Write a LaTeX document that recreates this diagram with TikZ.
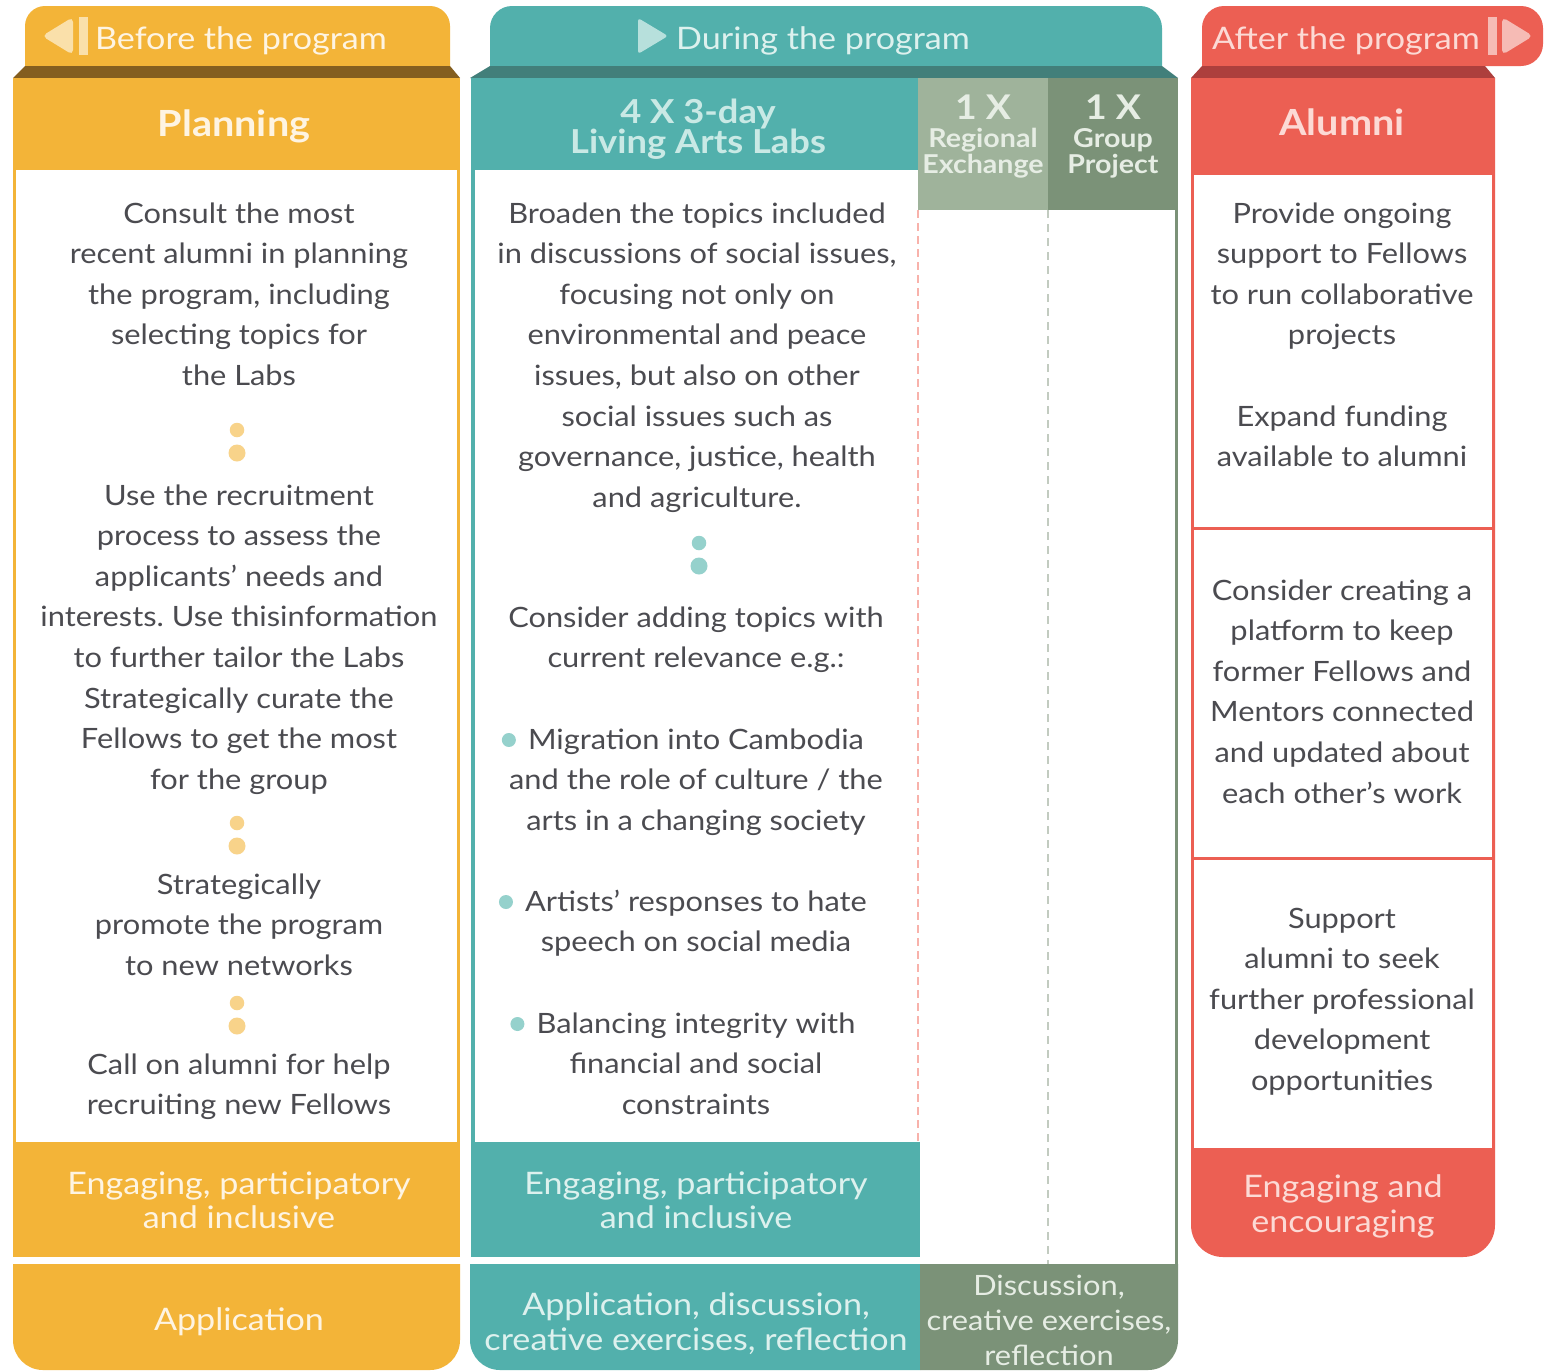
\documentclass[tikz,border=0pt]{standalone}
\usepackage{fontspec}
\setmainfont{Lato}[FakeStretch=1.1]
\usepackage{graphicx}
\definecolor{cYel}{HTML}{F3B438}
\definecolor{cYelDark}{HTML}{845E1F}
\definecolor{cYelText}{HTML}{FEF4E2}
\definecolor{cYelDot}{HTML}{F8D38A}
\definecolor{cYelArrow}{HTML}{FAE0AA}
\definecolor{cTeal}{HTML}{52B0AC}
\definecolor{cTealDark}{HTML}{427F7A}
\definecolor{cTealText}{HTML}{DDF1EE}
\definecolor{cTealHd}{HTML}{C9E9E5}
\definecolor{cTealArrow}{HTML}{B7E0DC}
\definecolor{cTealDot}{HTML}{95D1CC}
\definecolor{cSage}{HTML}{9FB39B}
\definecolor{cSageDark}{HTML}{7B9278}
\definecolor{cSageText}{HTML}{E6EDE4}
\definecolor{cRed}{HTML}{EC5F53}
\definecolor{cRedDark}{HTML}{AD3F3D}
\definecolor{cRedText}{HTML}{FCDAD5}
\definecolor{cRedArrow}{HTML}{F6BBB5}
\definecolor{cPinkDash}{HTML}{F8B2AB}
\definecolor{cGreyDash}{HTML}{C2CBC0}
\definecolor{cBody}{HTML}{4B4B50}
\tikzset{
  bodytext/.style={font=\frenchspacing\fontsize{28}{34}\selectfont, text=cBody, inner sep=0pt, anchor=base},
  tabtext/.style={font=\fontsize{31}{36}\selectfont, inner sep=0pt, anchor=base},
  headtext/.style={font=\bfseries\fontsize{36}{40}\selectfont, inner sep=0pt, anchor=base},
  labstext/.style={font=\bfseries\fontsize{33}{36}\selectfont, text=cTealHd, inner sep=0pt, anchor=base},
  onextext/.style={font=\bfseries\fontsize{34}{36}\selectfont, inner sep=0pt, anchor=base},
  sagetext/.style={font=\bfseries\fontsize{26}{28}\selectfont, inner sep=0pt, anchor=base},
  foottext/.style={font=\fontsize{31}{35}\selectfont, inner sep=0pt, anchor=base},
  smallfoot/.style={font=\fontsize{28}{35}\selectfont, inner sep=0pt, anchor=base},
  ydotsmall/.style={circle, fill=cYelDot, inner sep=0pt, minimum size=14.5pt},
  ydotbig/.style={circle, fill=cYelDot, inner sep=0pt, minimum size=17pt},
  tdotsmall/.style={circle, fill=cTealDot, inner sep=0pt, minimum size=14.5pt},
  tdotbig/.style={circle, fill=cTealDot, inner sep=0pt, minimum size=17pt},
  bulletdot/.style={circle, fill=cTealDot, inner sep=0pt, minimum size=14pt},
}
% #1 style, #2 name prefix, #3 x, #4 first baseline y, #5 pitch, #6 list of lines
\newcommand\mylines[6]{%
  \foreach \mylinetext [count=\mylineidx from 0] in {#6} {%
    \node[#1] (#2-\mylineidx) at ({#3},{#4+\mylineidx*#5}) {\mylinetext};
  }}
\begin{document}
\begin{tikzpicture}[x=1pt,y=-1pt]
\useasboundingbox[fill=white] (0,0) rectangle (1546,1371);

% ---------------- yellow column ----------------
\fill[cYel, rounded corners=20] (25,66) -- (25,6) -- (450,6) -- (450,66);
\fill[cYelDark] (25,66) -- (450,66) -- (460,78) -- (13,78) -- cycle;
\fill[cYel] (13,78) rectangle (460,1257);
\fill[white] (16,170) rectangle (457,1142);
\fill[cYel, rounded corners=30] (13,1264) -- (13,1370) -- (460,1370) -- (460,1264);
\fill[cYelArrow, rounded corners=5] (73,17) -- (73,55) -- (42,36) -- cycle;
\fill[cYelArrow] (79,17) rectangle (88,55);

% ---------------- teal column ----------------
\fill[cTeal, rounded corners=22] (490,66) -- (490,6) -- (1162,6) -- (1162,66);
\fill[cTealDark] (490,66) -- (1162,66) -- (1178,78) -- (470,78) -- cycle;
\fill[cTeal] (471,78) rectangle (918,170);
\fill[cSage] (918,78) rectangle (1048,210);
\fill[cSageDark] (1048,78) rectangle (1178,210);
\fill[cTeal] (471,170) rectangle (475,1142);
\fill[cTeal] (471,1142) rectangle (920,1257);
\fill[cSageDark] (1175,210) rectangle (1178,1264);
\draw[cPinkDash, line width=2.5pt, dash pattern=on 8pt off 5pt] (918,210) -- (918,1142);
\draw[cGreyDash, line width=2.5pt, dash pattern=on 8pt off 6pt] (1048,210) -- (1048,1264);
\fill[cTeal] (470,1264) -- (470,1340) .. controls (470,1356.6) and (483.4,1370) .. (500,1370) -- (920,1370) -- (920,1264) -- cycle;
\fill[cSageDark] (920,1264) -- (1178,1264) -- (1178,1340) .. controls (1178,1356.6) and (1164.6,1370) .. (1148,1370) -- (920,1370) -- cycle;
\fill[cTealArrow, rounded corners=3] (638,18) -- (638,54) -- (668,36) -- cycle;

% ---------------- red column ----------------
\fill[cRed, rounded corners=22] (1202,66) -- (1202,6) -- (1543,6) -- (1543,66) -- (1400,66);
\fill[cRedDark] (1202,66) -- (1485,66) -- (1495,78) -- (1191,78) -- cycle;
\fill[cRed, rounded corners=32] (1191,78) -- (1191,1257) -- (1495,1257) -- (1495,78);
\fill[white] (1194,175) rectangle (1492,526.5);
\fill[white] (1194,529.5) rectangle (1492,856.5);
\fill[white] (1194,859.5) rectangle (1492,1148);
\fill[cRedArrow] (1488,17) rectangle (1497,55);
\fill[cRedArrow, rounded corners=5] (1502,17) -- (1502,55) -- (1533,36) -- cycle;

% ---------------- headers ----------------
\node[tabtext, text=cYelText] (tabBefore) at (241,49) {Before the program};
\node[tabtext, text=cTealText] (tabDuring) at (823,49) {During the program};
\node[tabtext, text=cRedText] (tabAfter) at (1346,49) {After the program};
\node[headtext, text=cYelText] (hPlanning) at (234,136) {Planning};
\node[headtext, text=cRedText] (hAlumni) at (1342,135) {Alumni};
\node[labstext] (hLabs1) at (698,123) {4 X 3-day};
\node[labstext] (hLabs2) at (698,153) {Living Arts Labs};
\node[onextext, text=cSageText] (hReg1) at (983,119) {1 X};
\node[sagetext, text=cSageText] (hReg2) at (983,147) {Regional};
\node[sagetext, text=cSageText] (hReg3) at (983,173) {Exchange};
\node[onextext, text=cSageText] (hGrp1) at (1113,119) {1 X};
\node[sagetext, text=cSageText] (hGrp2) at (1113,147) {Group};
\node[sagetext, text=cSageText] (hGrp3) at (1113,173) {Project};

% ---------------- yellow body ----------------
\mylines{bodytext}{yp1}{239}{223}{40.6}{Consult the most,recent alumni in planning,{the program, including},selecting topics for,the Labs}
\node[ydotsmall] (yd1a) at (237,430) {};
\node[ydotbig] (yd1b) at (237,453) {};
\mylines{bodytext}{yp2}{239}{505}{40.6}{Use the recruitment,process to assess the,applicants’ needs and,interests. Use thisinformation,to further tailor the Labs,Strategically curate the,Fellows to get the most,for the group}
\node[ydotsmall] (yd2a) at (237,823) {};
\node[ydotbig] (yd2b) at (237,846) {};
\mylines{bodytext}{yp3}{239}{894}{40.6}{Strategically,promote the program,to new networks}
\node[ydotsmall] (yd3a) at (237,1003) {};
\node[ydotbig] (yd3b) at (237,1026) {};
\mylines{bodytext}{yp4}{239}{1074}{40.6}{Call on alumni for help,recruiting new Fellows}

% ---------------- teal body ----------------
\mylines{bodytext}{tp1}{697}{223}{40.6}{Broaden the topics included,{in discussions of social issues,},focusing not only on,environmental and peace,{issues, but also on other},social issues such as,{governance, justice, health},and agriculture.}
\node[tdotsmall] (td1a) at (699,543) {};
\node[tdotbig] (td1b) at (699,566) {};
\mylines{bodytext}{tp2}{696}{627}{40.6}{Consider adding topics with,current relevance e.g.:}
\mylines{bodytext}{tb1}{696}{749}{40.6}{Migration into Cambodia,and the role of culture / the,arts in a changing society}
\mylines{bodytext}{tb2}{696}{911}{40.6}{Artists’ responses to hate,speech on social media}
\mylines{bodytext}{tb3}{696}{1033}{40.6}{Balancing integrity with,financial and social,constraints}
\node[bulletdot] (bul1) at ([xshift=-19pt,yshift=9pt]tb1-0.base west) {};
\node[bulletdot] (bul2) at ([xshift=-19pt,yshift=9pt]tb2-0.base west) {};
\node[bulletdot] (bul3) at ([xshift=-19pt,yshift=9pt]tb3-0.base west) {};

% ---------------- red body ----------------
\mylines{bodytext}{rp1}{1342}{223}{40.6}{Provide ongoing,support to Fellows,to run collaborative,projects}
\mylines{bodytext}{rp2}{1342}{426}{40.6}{Expand funding,available to alumni}
\mylines{bodytext}{rp3}{1342}{600}{40.6}{Consider creating a,platform to keep,former Fellows and,Mentors connected,and updated about,each other’s work}
\mylines{bodytext}{rp4}{1342}{928}{40.6}{Support,alumni to seek,further professional,development,opportunities}

% ---------------- footers ----------------
\mylines{foottext, text=cYelText}{yf1}{239}{1194}{34.5}{{Engaging, participatory},and inclusive}
\node[foottext, text=cYelText] (yf2) at (239,1330) {Application};
\mylines{foottext, text=cTealText}{tf1}{696}{1194}{34.5}{{Engaging, participatory},and inclusive}
\mylines{foottext, text=cTealText}{tf2}{696}{1315}{35}{{Application, discussion,},{creative exercises, reflection}}
\mylines{smallfoot, text=cSageText}{gf1}{1049}{1295}{35}{{Discussion,},{creative exercises,},reflection}
\mylines{foottext, text=cRedText}{rf1}{1343}{1197}{35}{Engaging and,encouraging}
\end{tikzpicture}
\end{document}
